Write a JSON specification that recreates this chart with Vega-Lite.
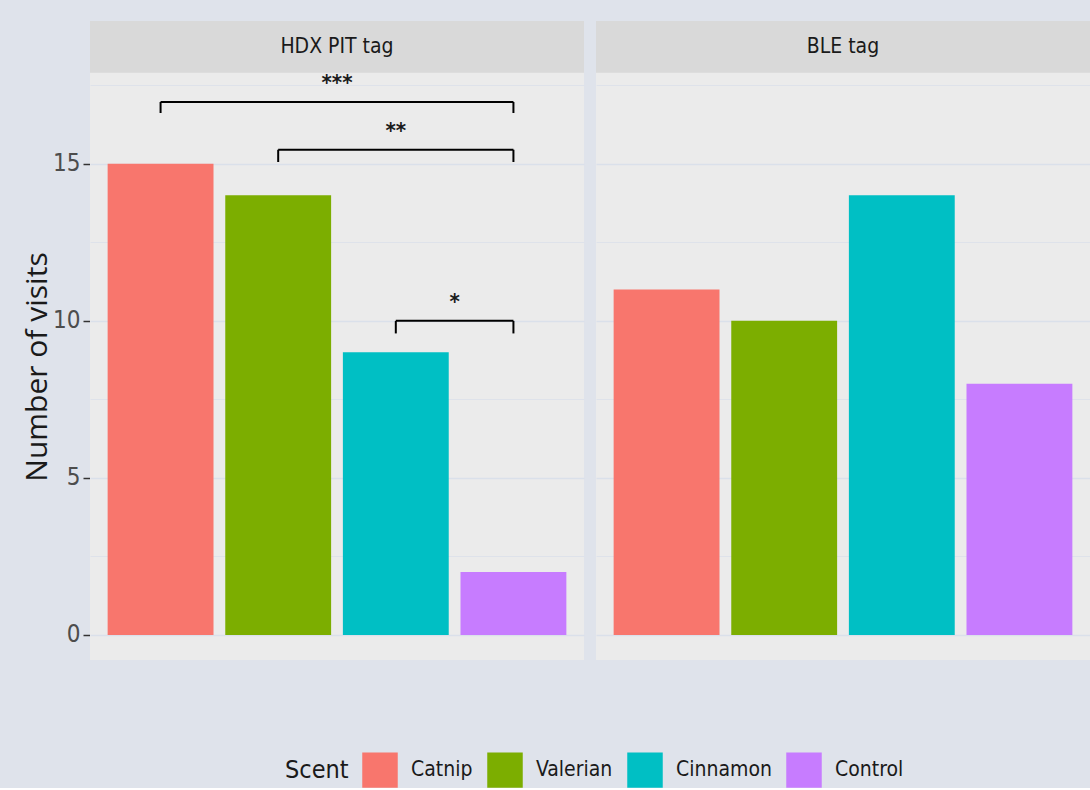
{
  "$schema": "https://vega.github.io/schema/vega-lite/v6.json",
  "background": "#dfe3eb",
  "padding": {"left": 22, "top": 21, "right": 0, "bottom": 0},
  "data": {"values": [
    {"tag": "HDX PIT tag", "kind": "bar", "scent": "Catnip", "visits": 15},
    {"tag": "HDX PIT tag", "kind": "bar", "scent": "Valerian", "visits": 14},
    {"tag": "HDX PIT tag", "kind": "bar", "scent": "Cinnamon", "visits": 9},
    {"tag": "HDX PIT tag", "kind": "bar", "scent": "Control", "visits": 2},
    {"tag": "BLE tag", "kind": "bar", "scent": "Catnip", "visits": 11},
    {"tag": "BLE tag", "kind": "bar", "scent": "Valerian", "visits": 10},
    {"tag": "BLE tag", "kind": "bar", "scent": "Cinnamon", "visits": 14},
    {"tag": "BLE tag", "kind": "bar", "scent": "Control", "visits": 8},
    {"tag": "HDX PIT tag", "kind": "bracket", "from": 1, "to": 4, "mid": 2.5, "yb": 16.97, "tip": 16.62, "label": "***"},
    {"tag": "HDX PIT tag", "kind": "bracket", "from": 2, "to": 4, "mid": 3, "yb": 15.45, "tip": 15.06, "label": "**"},
    {"tag": "HDX PIT tag", "kind": "bracket", "from": 3, "to": 4, "mid": 3.5, "yb": 10.0, "tip": 9.6, "label": "*"}
  ]},
  "facet": {
    "column": {"field": "tag", "type": "nominal", "sort": ["HDX PIT tag", "BLE tag"], "header": {"labels": false, "title": null}}
  },
  "spacing": 12,
  "spec": {
    "width": 494,
    "height": 639,
    "layer": [
      {
        "transform": [{"filter": "datum.kind === 'bar'"}],
        "mark": {"type": "bar"},
        "encoding": {
          "x": {"field": "scent", "type": "nominal", "sort": ["Catnip", "Valerian", "Cinnamon", "Control"], "scale": {"paddingInner": 0.1, "paddingOuter": 0.15}, "axis": null},
          "y": {"field": "visits", "type": "quantitative", "title": "Number of visits",
            "scale": {"domain": [-0.8, 19.55], "nice": false, "zero": false},
            "axis": {
              "values": [0, 2.5, 5, 7.5, 10, 12.5, 15, 17.5],
              "labelExpr": "datum.value % 5 === 0 ? datum.label : ''",
              "tickOpacity": {"condition": {"test": "datum.value % 5 !== 0", "value": 0}, "value": 1},
              "gridWidth": {"condition": {"test": "datum.value % 5 !== 0", "value": 0.8}, "value": 1.3}
            }
          },
          "color": {"field": "scent", "type": "nominal", "sort": ["Catnip", "Valerian", "Cinnamon", "Control"],
            "scale": {"domain": ["Catnip", "Valerian", "Cinnamon", "Control"], "range": ["#F8766D", "#7CAE00", "#00BFC4", "#C77CFF"]},
            "legend": {"orient": "none", "direction": "horizontal", "columns": 4, "legendX": 195, "legendY": 731, "title": "Scent", "titleOrient": "left"}
          }
        }
      },
      {
        "transform": [{"filter": "datum.kind === 'bar' && datum.scent === 'Catnip'"}],
        "mark": {"type": "rect", "color": "#d9d9d9"},
        "encoding": {
          "y": {"datum": 17.9, "type": "quantitative", "title": "Number of visits"},
          "y2": {"datum": 19.55}
        }
      },
      {
        "transform": [{"filter": "datum.kind === 'bar' && datum.scent === 'Catnip'"}],
        "mark": {"type": "text", "font": "DejaVu Sans Condensed, sans-serif", "fontSize": 21, "color": "#1a1a1a", "baseline": "middle"},
        "encoding": {
          "y": {"datum": 18.72, "type": "quantitative", "title": "Number of visits"},
          "text": {"field": "tag"}
        }
      },
      {
        "transform": [{"filter": "datum.kind === 'bracket'"}],
        "mark": {"type": "rule", "color": "#000000", "strokeWidth": 2},
        "encoding": {
          "x": {"field": "from", "type": "quantitative", "scale": {"domain": [0.4, 4.6], "nice": false, "zero": false}, "axis": null},
          "x2": {"field": "to"},
          "y": {"field": "yb", "type": "quantitative", "title": "Number of visits"}
        }
      },
      {
        "transform": [{"filter": "datum.kind === 'bracket'"}],
        "mark": {"type": "rule", "color": "#000000", "strokeWidth": 2},
        "encoding": {
          "x": {"field": "from", "type": "quantitative", "scale": {"domain": [0.4, 4.6], "nice": false, "zero": false}, "axis": null},
          "y": {"field": "yb", "type": "quantitative", "title": "Number of visits"},
          "y2": {"field": "tip"}
        }
      },
      {
        "transform": [{"filter": "datum.kind === 'bracket'"}],
        "mark": {"type": "rule", "color": "#000000", "strokeWidth": 2},
        "encoding": {
          "x": {"field": "to", "type": "quantitative", "scale": {"domain": [0.4, 4.6], "nice": false, "zero": false}, "axis": null},
          "y": {"field": "yb", "type": "quantitative", "title": "Number of visits"},
          "y2": {"field": "tip"}
        }
      },
      {
        "transform": [{"filter": "datum.kind === 'bracket'"}],
        "mark": {"type": "text", "font": "DejaVu Sans Condensed, sans-serif", "fontSize": 22, "fontWeight": "bold", "color": "#1a1a1a", "baseline": "alphabetic", "dy": -12},
        "encoding": {
          "x": {"field": "mid", "type": "quantitative", "scale": {"domain": [0.4, 4.6], "nice": false, "zero": false}, "axis": null},
          "y": {"field": "yb", "type": "quantitative", "title": "Number of visits"},
          "text": {"field": "label"}
        }
      }
    ],
    "resolve": {"scale": {"x": "independent"}}
  },
  "config": {
    "view": {"fill": "#ebebeb", "stroke": null},
    "axisY": {
      "domain": false,
      "gridColor": "#dae0ea",
      "tickColor": "#333333",
      "tickSize": 7,
      "tickWidth": 1.5,
      "labelFont": "DejaVu Sans Condensed, sans-serif",
      "labelFontSize": 24,
      "labelColor": "#4d4d4d",
      "labelPadding": 3,
      "titleFont": "Open Sans, Liberation Sans, sans-serif",
      "titleFontSize": 30,
      "titleFontWeight": "normal",
      "titleColor": "#1a1a1a",
      "titlePadding": 0,
      "titleY": 345.5
    },
    "legend": {
      "symbolType": "square",
      "symbolSize": 1260,
      "symbolStrokeWidth": 0,
      "symbolOpacity": 1,
      "labelFont": "DejaVu Sans Condensed, sans-serif",
      "labelFontSize": 21,
      "labelColor": "#1a1a1a",
      "labelOffset": 13,
      "columnPadding": 14,
      "titleFont": "DejaVu Sans Condensed, sans-serif",
      "titleFontSize": 25,
      "titleFontWeight": "normal",
      "titleColor": "#1a1a1a",
      "titlePadding": 13,
      "labelLimit": 300
    }
  }
}
